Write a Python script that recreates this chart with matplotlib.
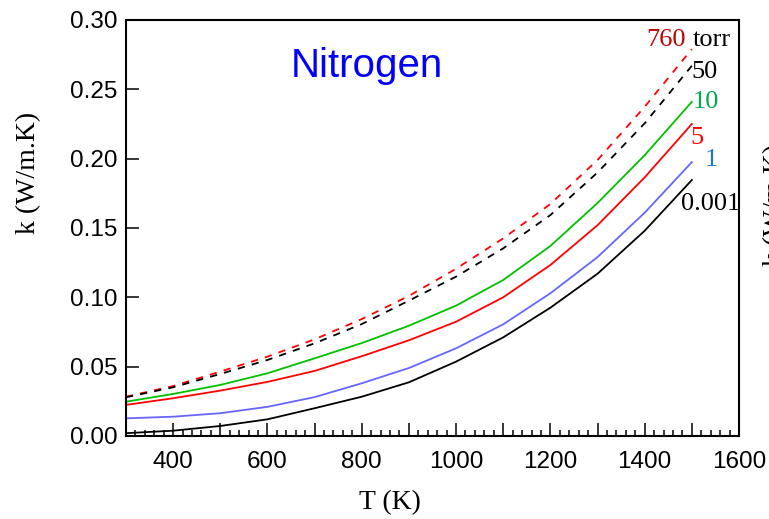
import matplotlib
matplotlib.use("Agg")
import matplotlib.pyplot as plt
from matplotlib.ticker import MultipleLocator, FuncFormatter

# temperature grid (K) and conductivity (W/m.K)
T = [300, 400, 500, 600, 700, 800, 900, 1000, 1100, 1200, 1300, 1400, 1500]
k_760 = [0.0283, 0.0360, 0.0464, 0.0572, 0.0697, 0.0843, 0.1010, 0.1206, 0.1425, 0.1673, 0.1990, 0.2374, 0.2790]
k_50 = [0.0279, 0.0351, 0.0447, 0.0548, 0.0668, 0.0807, 0.0976, 0.1149, 0.1353, 0.1593, 0.1900, 0.2255, 0.2670]
k_10 = [0.0247, 0.0303, 0.0368, 0.0452, 0.0560, 0.0670, 0.0795, 0.0940, 0.1125, 0.1370, 0.1680, 0.2025, 0.2410]
k_5 = [0.0224, 0.0272, 0.0327, 0.0390, 0.0469, 0.0575, 0.0690, 0.0824, 0.1000, 0.1233, 0.1520, 0.1865, 0.2250]
k_1 = [0.0127, 0.0139, 0.0164, 0.0210, 0.0280, 0.0380, 0.0490, 0.0632, 0.0805, 0.1029, 0.1290, 0.1610, 0.1975]
k_0001 = [0.0020, 0.0038, 0.0072, 0.0120, 0.0200, 0.0283, 0.0387, 0.0536, 0.0711, 0.0925, 0.1170, 0.1480, 0.1846]

SERIF = "Liberation Serif"
SANS = "Liberation Sans"

fig = plt.figure(figsize=(7.69, 5.19), dpi=100)
ax = fig.add_axes([0.1638, 0.160, 0.7972, 0.8015])

dash = (0, (4, 4))
ax.plot(T, k_760, color="#FF0000", lw=1.3, linestyle=dash)
ax.plot(T, k_50, color="#000000", lw=1.3, linestyle=dash)
ax.plot(T, k_10, color="#00C000", lw=1.3)
ax.plot(T, k_5, color="#FF0000", lw=1.3)
ax.plot(T, k_1, color="#6666FF", lw=1.3)
ax.plot(T, k_0001, color="#000000", lw=1.3)

ax.set_xlim(300, 1600)
ax.set_ylim(0, 0.30)

ax.xaxis.set_major_locator(MultipleLocator(100))
ax.xaxis.set_minor_locator(MultipleLocator(20))
ax.xaxis.set_major_formatter(FuncFormatter(lambda v, p: f"{v:.0f}" if int(round(v)) % 200 == 0 else ""))
ax.yaxis.set_major_locator(MultipleLocator(0.05))
ax.yaxis.set_major_formatter(FuncFormatter(lambda v, p: f"{v:.2f}"))

ax.tick_params(axis="both", which="major", direction="in", length=9.5, width=1.1,
               labelsize=17.5, top=False, right=False)
ax.tick_params(axis="x", which="minor", direction="in", length=4.5, width=1.1, top=False)
ax.tick_params(axis="x", which="major", pad=11)
ax.tick_params(axis="y", which="major", pad=6)
for lab in ax.get_xticklabels() + ax.get_yticklabels():
    lab.set_fontfamily(SANS)
for sp in ax.spines.values():
    sp.set_linewidth(1.5)

# curve labels
lab_size = 19
ax.text(1403, 0.281, "760", color="#C00000", fontsize=lab_size, family=SERIF, ha="left", va="baseline")
ax.text(1502, 0.281, "torr", color="black", fontsize=lab_size, family=SERIF, ha="left", va="baseline")
ax.text(1500, 0.2624, "50", color="black", fontsize=lab_size, family=SERIF, ha="left", va="center")
ax.text(1502, 0.2408, "10", color="#00A850", fontsize=lab_size, family=SERIF, ha="left", va="center")
ax.text(1496, 0.2149, "5", color="#FF0000", fontsize=lab_size, family=SERIF, ha="left", va="center")
ax.text(1528, 0.1990, "1", color="#1F78C8", fontsize=lab_size, family=SERIF, ha="left", va="center")
ax.text(1477, 0.1673, "0.001", color="black", fontsize=lab_size, family=SERIF, ha="left", va="center")

ax.text(811, 0.259, "Nitrogen", color="#0000FF", fontsize=29, family=SANS, ha="center", va="baseline")

fig.text(29 / 769, 0.667, "k (W/m.K)", rotation=90, fontsize=20, family=SERIF, ha="center", va="center")
fig.text(390 / 769, 0.032, "T (K)", fontsize=20, family=SERIF, ha="center", va="center")
# clipped duplicate label at the right edge, as in the source image
fig.text(0.992, 0.605, "k (W/m.K)", rotation=90, fontsize=20, family=SERIF, ha="left", va="center")

fig.savefig("out.png", dpi=100)
